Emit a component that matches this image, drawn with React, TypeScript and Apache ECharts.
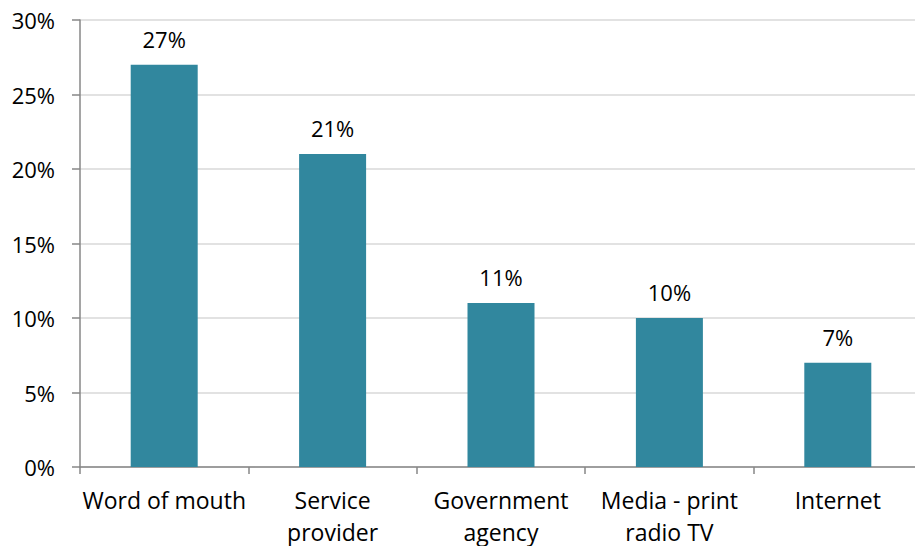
import React, { useEffect, useRef } from "react";
import * as echarts from "echarts";

const categories = [
  "Word of mouth",
  "Service\nprovider",
  "Government\nagency",
  "Media - print\nradio TV",
  "Internet",
];
const values = [27, 21, 11, 10, 7];
const yTicks = [0, 5, 10, 15, 20, 25, 30];

const FONT = "Open Sans";

export default function App() {
  const ref = useRef<HTMLDivElement>(null);
  useEffect(() => {
    document.body.style.margin = "0";
    const chart = echarts.init(ref.current!, null, { renderer: "svg" });
    chart.setOption({
      animation: false,
      backgroundColor: "#ffffff",
      grid: {
        left: 80,
        top: 20,
        width: 842,
        height: 447,
        containLabel: false,
        outerBoundsMode: "none",
      },
      xAxis: {
        type: "category",
        data: categories,
        boundaryGap: true,
        axisLine: { show: true, lineStyle: { color: "#878787", width: 1.5 } },
        axisTick: { show: true, alignWithLabel: false, length: 7, lineStyle: { color: "#878787", width: 1.5 } },
        axisLabel: {
          interval: 0,
          color: "#000",
          fontFamily: FONT,
          fontSize: 23,
          lineHeight: 32,
          margin: 17,
          verticalAlign: "top",
        },
      },
      yAxis: {
        type: "value",
        min: yTicks[0],
        max: yTicks[yTicks.length - 1],
        interval: 5,
        axisLine: { show: true, lineStyle: { color: "#878787", width: 1.5 } },
        axisTick: { show: true, inside: false, length: 8, lineStyle: { color: "#878787", width: 1.5 } },
        splitLine: { show: true, lineStyle: { color: "#D9D9D9", width: 1.5 } },
        axisLabel: {
          color: "#000",
          fontFamily: FONT,
          fontSize: 22,
          margin: 25,
          formatter: (v: number) => v + "%",
        },
      },
      series: [
        {
          type: "bar",
          data: values,
          barWidth: 67,
          itemStyle: { color: "#31879E" },
          label: {
            show: true,
            position: "top",
            distance: 15,
            color: "#000",
            fontFamily: FONT,
            fontSize: 22,
            formatter: (p: any) => p.value + "%",
          },
        },
      ],
    });
    return () => chart.dispose();
  }, []);
  return <div ref={ref} style={{ width: 915, height: 546 }} />;
}
